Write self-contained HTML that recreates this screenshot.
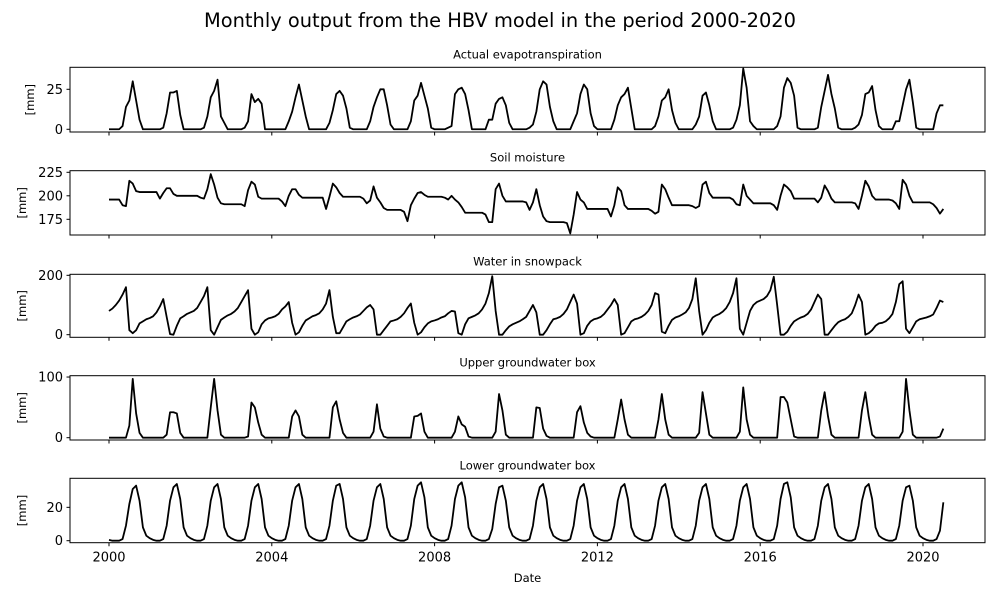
<!DOCTYPE html>
<html><head><meta charset="utf-8"><style>
html,body{margin:0;padding:0;background:#fff;}
svg{display:block;font-family:"DejaVu Sans","Liberation Sans",sans-serif;}
</style></head><body>
<svg id="chart" width="1000" height="600" viewBox="0 0 1000 600">
<text x="500" y="27" font-size="19.4" text-anchor="middle">Monthly output from the HBV model in the period 2000-2020</text>
</svg>
<script>
const xTickYears = [2000, 2004, 2008, 2012, 2016, 2020];
const panelTitles = ["Actual evapotranspiration", "Soil moisture", "Water in snowpack", "Upper groundwater box", "Lower groundwater box"];
const etTicks = [0, 25];
const smTicks = [175, 200, 225];
const snowTicks = [0, 200];
const ugwTicks = [0, 100];
const lgwTicks = [0, 20];

const etValues = [
0,0,0,0,2,14,18,30,18,6,0,0,
0,0,0,0,1,10,23,23,24,9,0,0,
0,0,0,0,1,8,20,24,31,8,4,0,
0,0,0,0,1,5,22,17,19,16,0,0,
0,0,0,0,0,5,11,20,28,18,8,0,
0,0,0,0,0,4,12,22,24,21,13,1,
0,0,0,0,0,5,14,20,25,25,15,3,
0,0,0,0,0,5,18,21,29,21,13,1,
0,0,0,0,1,2,22,25,26,22,12,0,
0,0,0,0,6,6,16,19,20,15,4,0,
0,0,0,0,1,3,11,25,30,28,14,5,
0,0,0,0,0,5,10,22,28,25,10,2,
0,0,0,0,0,6,15,20,22,26,13,0,
0,0,0,0,0,2,8,18,20,25,12,4,
0,0,0,0,0,3,8,21,23,15,5,0,
0,0,0,0,1,6,15,38,26,5,2,0,
0,0,0,0,0,2,8,26,32,29,21,1,
0,0,0,0,0,1,14,24,34,22,13,1,
0,0,0,0,1,3,9,22,23,27,12,2,
0,0,0,0,5,5,15,25,31,17,1,0,
0,0,0,0,10,15,15];

const smValues = [
196,196,196,196,190,189,216,213,205,204,204,204,
204,204,204,197,203,208,208,202,200,200,200,200,
200,200,200,198,197,207,223,212,198,192,191,191,
191,191,191,191,189,206,215,212,199,197,197,197,
197,197,197,194,189,200,207,207,201,198,198,198,
198,198,198,198,186,199,213,209,203,199,199,199,
199,199,199,197,192,195,210,198,193,187,185,185,
185,185,185,183,173,190,197,203,204,201,199,199,
199,199,199,198,196,200,196,193,188,182,182,182,
182,182,182,180,172,172,207,213,200,194,194,194,
194,194,194,193,185,193,207,190,178,173,172,172,
172,172,172,171,160,180,204,196,193,186,186,186,
186,186,186,186,178,190,209,205,190,186,186,186,
186,186,186,186,184,181,183,212,207,198,190,190,
190,190,190,190,189,187,189,212,215,203,198,198,
198,198,198,198,196,191,190,212,200,196,192,192,
192,192,192,192,190,185,200,212,209,205,197,197,
197,197,197,197,197,193,198,211,205,197,193,193,
193,193,193,193,192,186,200,216,210,200,196,196,
196,196,196,195,192,186,217,212,200,193,193,193,
193,193,193,191,187,181,186];

const snowValues = [
80,88,100,115,135,160,15,5,15,38,45,52,
56,62,75,95,120,60,2,0,30,55,62,70,
75,80,90,110,130,160,15,0,25,50,58,65,
70,78,90,110,130,150,20,0,8,35,48,55,
58,62,70,85,95,110,40,0,8,30,48,55,
62,66,72,85,105,150,60,5,5,25,45,52,
58,62,68,80,92,100,85,0,0,15,30,45,
48,52,60,72,90,105,40,0,8,25,38,45,
48,52,58,62,72,80,78,5,0,35,55,60,
65,72,85,105,140,197,80,0,0,15,28,35,
40,45,52,60,80,100,75,0,0,15,35,52,
55,60,70,85,110,135,105,0,5,30,45,52,
55,60,70,85,100,120,100,0,5,25,45,52,
55,60,68,80,100,140,135,10,5,30,50,58,
62,68,75,90,120,190,80,0,15,40,58,65,
70,78,90,110,140,190,20,0,40,80,100,110,
115,120,130,150,195,100,0,0,10,30,45,52,
58,62,70,85,110,135,120,0,0,15,30,42,
48,52,60,72,100,135,110,0,5,15,30,38,
40,45,55,70,110,170,180,20,5,25,45,52,
55,58,62,68,90,115,110];

const ugwValues = [
0,0,0,0,0,0,20,97,40,8,0,0,
0,0,0,0,0,5,42,42,40,8,0,0,
0,0,0,0,0,0,50,97,45,5,0,0,
0,0,0,0,0,2,58,50,25,5,0,0,
0,0,0,0,0,0,35,45,35,5,0,0,
0,0,0,0,0,0,50,60,30,8,0,0,
0,0,0,0,0,0,10,55,15,2,0,0,
0,0,0,0,0,0,35,36,40,10,0,0,
0,0,0,0,0,0,10,35,22,18,2,0,
0,0,0,0,0,0,10,72,45,5,0,0,
0,0,0,0,0,0,50,49,15,3,0,0,
0,0,0,0,0,0,42,52,25,8,2,0,
0,0,0,0,0,0,30,63,30,5,0,0,
0,0,0,0,0,0,30,72,30,5,0,0,
0,0,0,0,0,0,8,75,40,5,0,0,
0,0,0,0,0,0,10,83,30,5,0,0,
0,0,0,0,0,0,67,67,58,30,2,0,
0,0,0,0,0,0,45,75,35,5,0,0,
0,0,0,0,0,0,45,75,35,5,0,0,
0,0,0,0,0,0,10,97,45,5,0,0,
0,0,0,0,0,2,15];

const lgwValues = [
0.5,0,0,0,1,9,22,31,33,24,8,3,
1.5,0.5,0,0,1,9,24,32,34,25,8,3,
1.5,0.5,0,0,1,9,24,32,34,25,8,3,
1.5,0.5,0,0,1,9,24,32,34,25,8,3,
1.5,0.5,0,0,1,9,24,32,34,25,8,3,
1.5,0.5,0,0,1,9,24,33,34,25,8,3,
1.5,0.5,0,0,1,9,24,32,34,25,8,3,
1.5,0.5,0,0,1,9,25,33,35,26,8,3,
1.5,0.5,0,0,1,9,25,33,35,26,8,3,
1.5,0.5,0,0,1,7,22,32,33,24,8,3,
1.5,0.5,0,0,1,9,24,32,34,25,8,3,
1.5,0.5,0,0,1,9,24,32,34,25,8,3,
1.5,0.5,0,0,1,9,24,32,34,25,8,3,
1.5,0.5,0,0,1,9,24,32,34,25,8,3,
1.5,0.5,0,0,1,9,24,32,34,25,8,3,
1.5,0.5,0,0,1,9,24,32,34,25,8,3,
1.5,0.5,0,0,1,9,25,34,35,26,8,3,
1.5,0.5,0,0,1,9,24,32,34,25,8,3,
1.5,0.5,0,0,1,9,24,32,34,25,8,3,
1.5,0.5,0,0,1,9,24,32,33,24,8,3,
1.5,0.5,0,0,1,6,23];

const NS = "http://www.w3.org/2000/svg";
const svg = document.getElementById("chart");
const X0 = 70, X1 = 985;
function xScale(t){ return 109 + 40.7 * (t - 2000); }
function monthT(i){ return 2000 + i / 12; }

const panels = [
 {top:67.3, bottom:132, ymin:-1.7, ymax:38.75, ticks:etTicks, data:etValues, key:"evapotranspiration"},
 {top:170.7, bottom:235, ymin:158.3, ymax:226.7, ticks:smTicks, data:smValues, key:"soil-moisture"},
 {top:274.3, bottom:337.3, ymin:-8.8, ymax:203.4, ticks:snowTicks, data:snowValues, key:"snowpack"},
 {top:375.7, bottom:440, ymin:-3.8, ymax:102.2, ticks:ugwTicks, data:ugwValues, key:"upper-groundwater"},
 {top:478.3, bottom:542.7, ymin:-1.2, ymax:37.4, ticks:lgwTicks, data:lgwValues, key:"lower-groundwater"}
];

function mk(tag, attrs, parent){
  const e = document.createElementNS(NS, tag);
  for (const k in attrs) e.setAttribute(k, attrs[k]);
  (parent || svg).appendChild(e);
  return e;
}

panels.forEach((p, pi) => {
  const yScale = v => p.bottom - (v - p.ymin) / (p.ymax - p.ymin) * (p.bottom - p.top);
  const g = mk("g", {});
  
  

  const title = mk("text", {x:527.5, y:p.top - 9, "font-size":11.5, "text-anchor":"middle"}, g);
  title.textContent = panelTitles[pi];
  
  

  const pts = p.data.map((v, i) => xScale(monthT(i)).toFixed(2) + "," + yScale(v).toFixed(2)).join(" ");
  const line = mk("polyline", {points:pts, fill:"none", stroke:"#000", "stroke-width":1.8, "stroke-linejoin":"round"}, g);
  
  

  const frame = mk("rect", {x:X0, y:p.top, width:X1 - X0, height:p.bottom - p.top, fill:"none", stroke:"#000", "stroke-width":1}, g);
  
  

  p.ticks.forEach(t => {
    const y = yScale(t);
    const tk = mk("line", {x1:X0 - 3.5, x2:X0, y1:y, y2:y, stroke:"#000", "stroke-width":1}, g);
    
    
    const lb = mk("text", {x:X0 - 7, y:y + 4.5, "font-size":13, "text-anchor":"end"}, g);
    lb.textContent = t;
    
    
  });
  const ylab = mk("text", {x:0, y:0, "font-size":11.5, "text-anchor":"middle", transform:"translate(" + (pi===0 ? 34 : 26) + "," + ((p.top + p.bottom)/2) + ") rotate(-90)"}, g);
  ylab.textContent = "[mm]";
  
  

  xTickYears.forEach(yr => {
    const x = xScale(yr);
    const tk = mk("line", {x1:x, x2:x, y1:p.bottom, y2:p.bottom + 3.5, stroke:"#000", "stroke-width":1}, g);
    
    
    if (pi === panels.length - 1) {
      const lb = mk("text", {x:x, y:p.bottom + 19, "font-size":13, "text-anchor":"middle"}, g);
      lb.textContent = yr;
      
      
    }
  });
});

const xt = mk("text", {x:527.5, y:582, "font-size":11.5, "text-anchor":"middle"});
xt.textContent = "Date";


</script>
</body></html>
